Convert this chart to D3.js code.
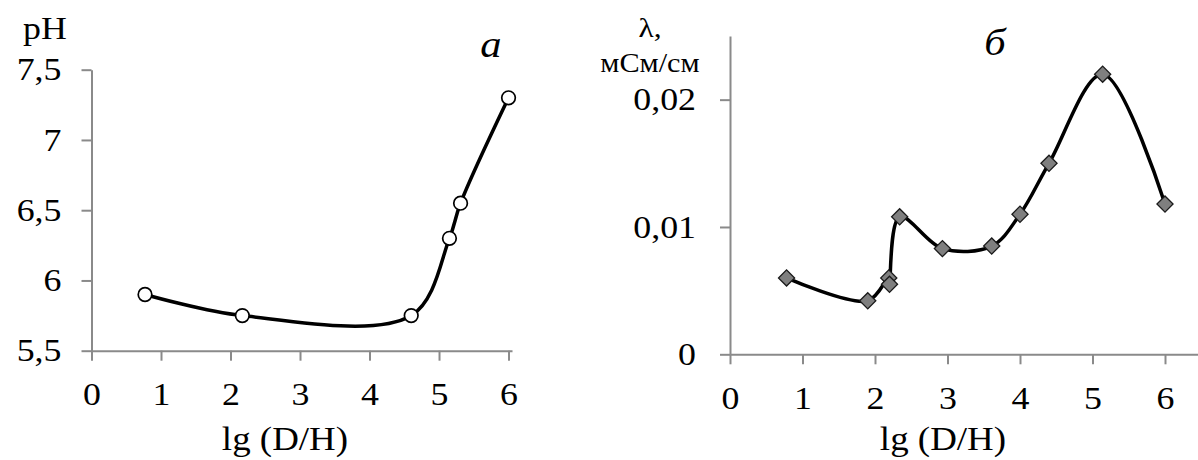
<!DOCTYPE html>
<html>
<head>
<meta charset="utf-8">
<script src="https://cdn.jsdelivr.net/npm/d3@7"></script>
<style>
  body { margin: 0; background: #fff; }
  svg { display: block; }
  svg text { font-family: "Liberation Serif", "Times New Roman", Tinos, "DejaVu Serif", serif; fill: #000; }
  .axis path, .axis line { stroke: #8a8a8a; stroke-width: 2; }
  .axis text { font-size: 32px; }
</style>
</head>
<body>
<svg id="chart" width="1198" height="460"></svg>
<script>
'use strict';

// panel a: pH vs lg(D/H)
const phX = [0.77, 2.17, 4.6, 5.15, 5.31, 6.0];
const phY = [5.9, 5.75, 5.75, 6.3, 6.55, 7.3];
const phTicks = [5.5, 6, 6.5, 7, 7.5];

// panel b: conductivity vs lg(D/H)
const lamX = [0.78, 1.9, 2.19, 2.2, 2.34, 2.93, 3.61, 4.0, 4.4, 5.14, 6.0];
const lamY = [0.006, 0.0042, 0.006, 0.0055, 0.0108, 0.0083, 0.0085, 0.011, 0.015, 0.022, 0.0118];
const lamTicks = [0, 0.01, 0.02];

const xTicks = [0, 1, 2, 3, 4, 5, 6];

const fmt = v => String(v).replace('.', ',');

const svg = d3.select('#chart');

function panel(opt) {
  const x = d3.scaleLinear().domain(opt.xDomain).range(opt.xRange);
  const y = d3.scaleLinear().domain(opt.yDomain).range(opt.yRange);

  // axes
  const gx = svg.append('g')
    .attr('class', 'axis')
    .attr('transform', `translate(0,${opt.yRange[0]})`)
    .call(d3.axisBottom(x).tickValues(xTicks).tickFormat(fmt)
      .tickSize(10).tickSizeOuter(0).tickPadding(22));
  const gy = svg.append('g')
    .attr('class', 'axis')
    .attr('transform', `translate(${opt.xRange[0]},0)`)
    .call(d3.axisLeft(y).tickValues(opt.yTicks).tickFormat(fmt)
      .tickSize(10).tickSizeOuter(0).tickPadding(opt.yPad));
  gx.attr('font-family', null).attr('font-size', null);
  gy.attr('font-family', null).attr('font-size', null);

  // smoothed line
  const pts = opt.xs.map((d, i) => [x(d), y(opt.ys[i])]);
  svg.append('path')
    .attr('d', d3.line().curve(d3.curveCatmullRom.alpha(0.5))(pts))
    .attr('fill', 'none')
    .attr('stroke', '#000')
    .attr('stroke-width', 3.5);

  // markers
  if (opt.marker === 'circle') {
    svg.append('g').selectAll('circle')
      .data(pts).enter()
      .append('circle')
      .attr('cx', d => d[0])
      .attr('cy', d => d[1])
      .attr('r', 6.8)
      .attr('fill', '#fff')
      .attr('stroke', '#000')
      .attr('stroke-width', 1.7);
  } else {
    svg.append('g').selectAll('path')
      .data(pts).enter()
      .append('path')
      .attr('d', d3.symbol(d3.symbolSquare, 130))
      .attr('transform', d => `translate(${d[0]},${d[1]}) rotate(45)`)
      .attr('fill', '#7f7f7f')
      .attr('stroke', '#1a1a1a')
      .attr('stroke-width', 1.3);
  }

  // x title
  svg.append('text')
    .attr('x', opt.xTitleX)
    .attr('y', 450)
    .attr('text-anchor', 'middle')
    .style('font-size', '33px')
    .text('lg (D/H)');
}

panel({
  xDomain: [0, 6.05], xRange: [91.5, 512],
  yDomain: [5.5, 7.5], yRange: [350.7, 69.7], yPad: 20,
  yTicks: phTicks, xs: phX, ys: phY, marker: 'circle', xTitleX: 285
});

panel({
  xDomain: [0, 6.45], xRange: [730, 730 + 6.45 * 72.5],
  yDomain: [0, 0.025], yRange: [354.3, 36], yPad: 24,
  yTicks: lamTicks, xs: lamX, ys: lamY, marker: 'diamond', xTitleX: 943
});

// axis titles and panel letters
svg.append('text').attr('x', 45).attr('y', 39).attr('text-anchor', 'middle')
  .style('font-size', '32px').text('pH');
svg.append('text').attr('x', 491).attr('y', 57).attr('text-anchor', 'middle')
  .style('font-size', '38px').style('font-style', 'italic').text('а');

svg.append('text').attr('x', 650).attr('y', 37).attr('text-anchor', 'middle')
  .style('font-size', '28px').text('λ,');
svg.append('text').attr('x', 650).attr('y', 72).attr('text-anchor', 'middle')
  .style('font-size', '27px').text('мСм/см');
svg.append('text').attr('x', 995).attr('y', 55).attr('text-anchor', 'middle')
  .style('font-size', '38px').style('font-style', 'italic').text('б');

// the original figure's lettering is a little wider than plain Times
svg.selectAll('text').each(function() {
  const len = this.getComputedTextLength();
  d3.select(this)
    .attr('textLength', len * 1.12)
    .attr('lengthAdjust', 'spacingAndGlyphs');
});
</script>
</body>
</html>
